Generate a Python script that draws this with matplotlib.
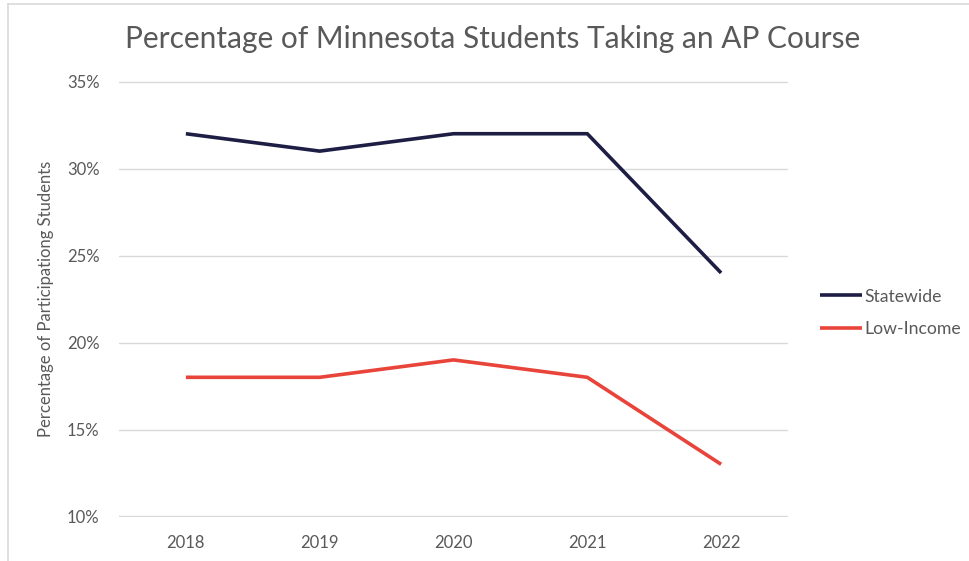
import matplotlib.pyplot as plt
from matplotlib.lines import Line2D
from matplotlib.ticker import FuncFormatter

years = ["2018", "2019", "2020", "2021", "2022"]
statewide = [32, 31, 32, 32, 24]
low_income = [18, 18, 19, 18, 13]

plt.rcParams['font.family'] = ['Lato', 'DejaVu Sans']
text_col = "#595959"

fig = plt.figure(figsize=(9.69, 5.61), dpi=100)
ax = fig.add_axes([0.1228, 0.0784, 0.6904, 0.7772])

x = range(len(years))
ax.plot(x, statewide, color="#1e1e45", lw=2.6, solid_capstyle="butt", label="Statewide")
ax.plot(x, low_income, color="#e8443a", lw=2.6, solid_capstyle="butt", label="Low-Income")

ax.set_xlim(-0.5, len(years) - 0.5)
ax.set_ylim(9.97, 35.03)
ax.set_yticks([10, 15, 20, 25, 30, 35])
ax.yaxis.set_major_formatter(FuncFormatter(lambda v, p: f"{v:.0f}%"))
ax.set_xticks(list(x))
ax.set_xticklabels(years)
ax.grid(axis="y", color="#d9d9d9", lw=1)
ax.set_axisbelow(True)
for s in ax.spines.values():
    s.set_visible(False)
ax.tick_params(length=0, labelsize=12, colors=text_col)
ax.tick_params(axis="y", pad=14)
ax.tick_params(axis="x", pad=13)
ax.set_ylabel("Percentage of Participationg Students", fontsize=12, color=text_col, labelpad=9)

fig.suptitle("Percentage of Minnesota Students Taking an AP Course", x=0.508, y=0.955,
             fontsize=21.5, color=text_col)

leg = ax.legend(loc="center left", bbox_to_anchor=(1.024, 0.468), frameon=False,
                fontsize=12.7, handlelength=2.4, handletextpad=0.1, labelspacing=0.95,
                labelcolor=text_col)

# thin frame edges at top and left
fig.add_artist(Line2D([0.0083, 1.0], [0.993, 0.993], color="#d9d9d9", lw=1.2))
fig.add_artist(Line2D([0.0083, 0.0083], [0.0, 0.993], color="#d9d9d9", lw=1.2))

fig.savefig("out.png", dpi=100)
